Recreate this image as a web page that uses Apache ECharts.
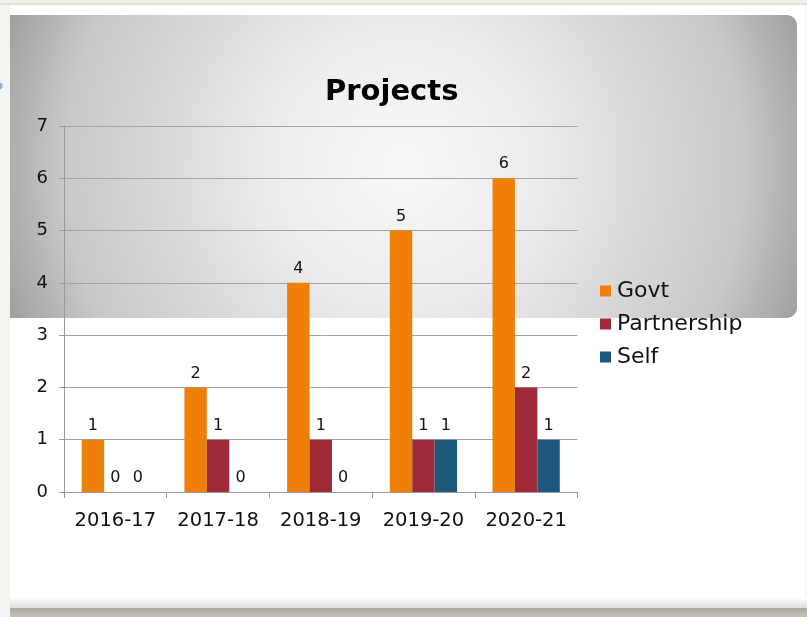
<!DOCTYPE html>
<html lang="en">
<head>
    <meta charset="UTF-8">
    <title>Projects</title>
    <script src="https://cdn.jsdelivr.net/npm/echarts@6.0.0/dist/echarts.min.js"></script>
    <style>
        html, body { margin: 0; padding: 0; background: #f3f5f1; }
        #main { width: 807px; height: 617px; }
    </style>
</head>
<body>
<div id="main"></div>

<script type="text/javascript">
    // data
    var years = ['2016-17', '2017-18', '2018-19', '2019-20', '2020-21'];
    var govt = [1, 2, 4, 5, 6];
    var partnership = [0, 1, 1, 1, 2];
    var self = [0, 0, 0, 1, 1];
    var yTicks = [0, 7, 1]; // min, max, step

    var myChart = echarts.init(document.getElementById('main'));

    var labelStyle = {
        show: true,
        position: 'top',
        distance: 6,
        fontSize: 16,
        color: '#111'
    };

    var option = {
        animation: false,
        textStyle: { fontFamily: 'DejaVu Sans' },
        graphic: [
            // page strip at the top
            { type: 'rect', z: -20, shape: { x: 0, y: 0, width: 807, height: 3 }, style: { fill: '#f1f1ec' } },
            { type: 'rect', z: -20, shape: { x: 0, y: 3, width: 807, height: 2 }, style: { fill: '#e2e0d6' } },
            // white card
            { type: 'rect', z: -20, shape: { x: 10, y: 5, width: 795, height: 594 }, style: { fill: '#ffffff' } },
            // bottom shadow
            {
                type: 'rect', z: -20, shape: { x: 10, y: 597, width: 797, height: 11 },
                style: {
                    fill: new echarts.graphic.LinearGradient(0, 0, 0, 1, [
                        { offset: 0, color: '#ffffff' },
                        { offset: 1, color: '#dcdcd8' }
                    ])
                }
            },
            {
                type: 'rect', z: -20, shape: { x: 10, y: 608, width: 797, height: 9 },
                style: {
                    fill: new echarts.graphic.LinearGradient(0, 0, 0, 1, [
                        { offset: 0, color: '#a9a89e' },
                        { offset: 1, color: '#c4c2b6' }
                    ])
                }
            },
            // little blue mark at the left edge
            { type: 'circle', z: -20, shape: { cx: -1, cy: 86, r: 3.5 }, style: { fill: '#8fb0e6' } },
            // gray gradient panel
            {
                type: 'rect', z: -15,
                shape: { x: 10, y: 15, width: 787, height: 303, r: [0, 10, 10, 0] },
                style: {
                    fill: new echarts.graphic.RadialGradient(0.5, 0.5, 1.4, [
                        { offset: 0, color: '#f8f8f8' },
                        { offset: 0.32, color: '#ececec' },
                        { offset: 0.47, color: '#e0e0e0' },
                        { offset: 0.8, color: '#c8c8c8' },
                        { offset: 0.93, color: '#adadad' },
                        { offset: 1, color: '#9e9e9e' }
                    ])
                }
            }
        ],
        title: {
            text: 'Projects',
            left: 325,
            top: 78,
            padding: 0,
            textStyle: { fontSize: 29, fontWeight: 'bold', color: '#000', fontFamily: 'DejaVu Sans' }
        },
        legend: {
            orient: 'vertical',
            left: 600,
            top: 280,
            padding: 0,
            itemGap: 11,
            itemWidth: 11,
            itemHeight: 11,
            icon: 'rect',
            textStyle: { fontSize: 22, color: '#111', padding: [0, 0, 0, 1] },
            data: ['Govt', 'Partnership', 'Self']
        },
        grid: {
            left: 64,
            right: 229.5,
            top: 126,
            bottom: 125
        },
        xAxis: {
            type: 'category',
            data: years,
            axisLine: { lineStyle: { color: '#9a9a9a', width: 1 } },
            axisTick: { show: true, length: 6, lineStyle: { color: '#9a9a9a' } },
            axisLabel: { interval: 0, fontSize: 19.5, color: '#111', margin: 19 }
        },
        yAxis: {
            type: 'value',
            min: yTicks[0],
            max: yTicks[1],
            interval: yTicks[2],
            axisLine: { show: true, lineStyle: { color: '#9a9a9a', width: 1 } },
            axisTick: { show: true, length: 5, lineStyle: { color: '#9a9a9a' } },
            axisLabel: { fontSize: 18, color: '#111', margin: 16 },
            splitLine: { lineStyle: { color: '#a3a3a3', width: 1 } }
        },
        series: [{
            name: 'Govt',
            type: 'bar',
            data: govt,
            barGap: '0%',
            barCategoryGap: '34.5%',
            itemStyle: { color: '#f07f09' },
            label: labelStyle
        }, {
            name: 'Partnership',
            type: 'bar',
            data: partnership,
            itemStyle: { color: '#9f2936' },
            label: labelStyle
        }, {
            name: 'Self',
            type: 'bar',
            data: self,
            itemStyle: { color: '#1b587c' },
            label: labelStyle
        }]
    };

    myChart.setOption(option);
</script>
</body>
</html>
